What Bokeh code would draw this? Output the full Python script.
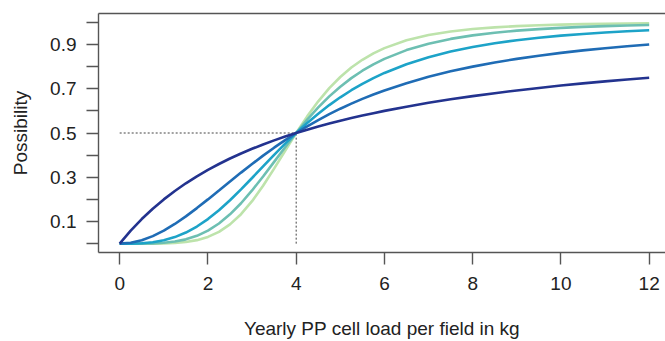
from bokeh.plotting import figure
from bokeh.models import Range1d, FixedTicker, LinearAxis
from bokeh.embed import file_html
from bokeh.resources import INLINE

# Load in kg (x) and possibility curves
load_kg = [0, 0.25, 0.5, 0.75, 1.0, 1.25, 1.5, 1.75, 2.0, 2.25, 2.5, 2.75, 3.0,
           3.25, 3.5, 3.75, 4.0, 4.25, 4.5, 4.75, 5.0, 5.25, 5.5, 5.75, 6.0,
           6.5, 7.0, 7.5, 8.0, 8.5, 9.0, 9.5, 10.0, 10.5, 11.0, 11.5, 12.0]

curve_1 = [0.0, 0.0588, 0.1111, 0.1579, 0.2, 0.2381, 0.2727, 0.3043, 0.3333, 0.36, 0.3846, 0.4074, 0.4286,
           0.4483, 0.4667, 0.4839, 0.5, 0.5152, 0.5294, 0.5429, 0.5556, 0.5676, 0.5789, 0.5897, 0.6,
           0.619, 0.6364, 0.6522, 0.6667, 0.68, 0.6923, 0.7037, 0.7143, 0.7241, 0.7333, 0.7419, 0.75]
curve_2 = [0.0, 0.0039, 0.0154, 0.034, 0.0588, 0.089, 0.1233, 0.1607, 0.2, 0.2404, 0.2809, 0.321, 0.36,
           0.3977, 0.4336, 0.4678, 0.5, 0.5303, 0.5586, 0.5851, 0.6098, 0.6327, 0.6541, 0.6739, 0.6923,
           0.7253, 0.7539, 0.7786, 0.8, 0.8187, 0.8351, 0.8494, 0.8621, 0.8733, 0.8832, 0.8921, 0.9]
curve_3 = [0.0, 0.0002, 0.002, 0.0066, 0.0154, 0.0296, 0.0501, 0.0773, 0.1111, 0.1511, 0.1962, 0.2453, 0.2967,
           0.3491, 0.4012, 0.4517, 0.5, 0.5453, 0.5874, 0.6261, 0.6614, 0.6933, 0.7222, 0.7481, 0.7714,
           0.811, 0.8428, 0.8683, 0.8889, 0.9056, 0.9193, 0.9305, 0.9399, 0.9476, 0.9541, 0.9596, 0.9643]
curve_4 = [0.0, 0.0, 0.0002, 0.0012, 0.0039, 0.0095, 0.0194, 0.0353, 0.0588, 0.091, 0.1324, 0.1826, 0.2404,
           0.3035, 0.3696, 0.4358, 0.5, 0.5604, 0.6157, 0.6654, 0.7094, 0.748, 0.7814, 0.8103, 0.8351,
           0.8746, 0.9037, 0.9252, 0.9412, 0.9533, 0.9625, 0.9695, 0.975, 0.9794, 0.9828, 0.9856, 0.9878]
curve_5 = [0.0, 0.0, 0.0, 0.0002, 0.001, 0.003, 0.0074, 0.0158, 0.0303, 0.0533, 0.0871, 0.1331, 0.1918,
           0.2615, 0.339, 0.42, 0.5, 0.5752, 0.6431, 0.7025, 0.7532, 0.7957, 0.8309, 0.8599, 0.8836,
           0.9189, 0.9426, 0.9586, 0.9697, 0.9774, 0.983, 0.9869, 0.9899, 0.992, 0.9937, 0.9949, 0.9959]

curves = [curve_5, curve_4, curve_3, curve_2, curve_1]
colors = ["#bde3ab", "#6dbfb2", "#1da3c8", "#1f6cb5", "#23338f"]

x_ticks = [0, 2, 4, 6, 8, 10, 12]
y_label_ticks = [0.1, 0.3, 0.5, 0.7, 0.9]
y_minor_ticks = [0.0, 0.2, 0.4, 0.6, 0.8, 1.0]

ref_x = 4
ref_y = 0.5

FONT = "Liberation Sans"
FS = "19px"
AX = "#555555"

p = figure(width=665, height=341, output_backend="svg", toolbar_location=None,
           x_range=Range1d(-0.48, 12.37), y_range=Range1d(-0.04, 1.04),
           min_border_left=98, min_border_right=0, min_border_top=13, min_border_bottom=89)
p.outline_line_color = None
p.xgrid.grid_line_color = None
p.ygrid.grid_line_color = None
p.background_fill_color = "white"
p.border_fill_color = "white"

# reference lines
p.line(x=[0, ref_x], y=[ref_y, ref_y], line_color="#444444", line_width=1, line_dash="2 2")
p.line(x=[ref_x, ref_x], y=[0, ref_y], line_color="#444444", line_width=1, line_dash="2 2")

for ys, c in zip(curves, colors):
    p.line(x=load_kg, y=ys, line_color=c, line_width=2.6)

xa = p.xaxis[0]
xa.ticker = FixedTicker(ticks=x_ticks)
xa.axis_label = "Yearly PP cell load per field in kg"
ya = p.yaxis[0]
ya.ticker = FixedTicker(ticks=y_label_ticks, minor_ticks=y_minor_ticks)
ya.axis_label = "Possibility"

for ax in (xa, ya):
    ax.axis_line_color = AX
    ax.axis_line_width = 1.4
    ax.major_tick_line_color = AX
    ax.major_tick_line_width = 1.4
    ax.major_tick_in = 0
    ax.major_tick_out = 12
    ax.minor_tick_line_color = AX
    ax.minor_tick_line_width = 1.4
    ax.minor_tick_in = 0
    ax.minor_tick_out = 12
    ax.major_label_text_font = FONT
    ax.major_label_text_font_size = FS
    ax.major_label_text_color = "#222222"
    ax.axis_label_text_font = FONT
    ax.axis_label_text_font_size = FS
    ax.axis_label_text_font_style = "normal"
    ax.axis_label_text_color = "#222222"

xa.minor_tick_line_color = None
xa.major_label_standoff = 12
xa.axis_label_standoff = 25
ya.major_label_standoff = 10
ya.axis_label_standoff = 16

top = LinearAxis(ticker=FixedTicker(ticks=[]), axis_line_color=AX, axis_line_width=1.4,
                 major_tick_line_color=None, minor_tick_line_color=None,
                 major_label_text_font_size="0px")
p.add_layout(top, "above")

open("out.html", "w").write(file_html(p, INLINE))
